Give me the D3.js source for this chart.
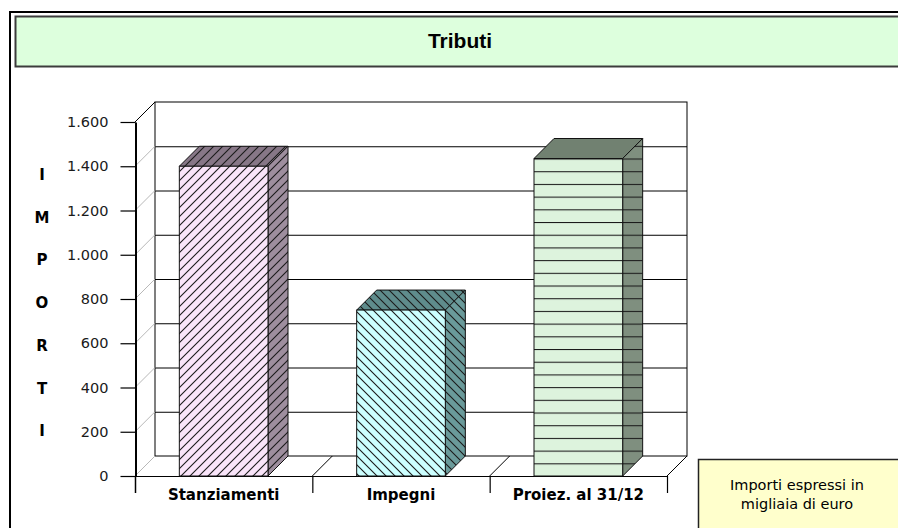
<!DOCTYPE html>
<html>
<head>
<meta charset="utf-8">
<script src="https://cdn.jsdelivr.net/npm/d3@7"></script>
<style>
  html, body { margin: 0; padding: 0; background: #fff; }
  svg { display: block; }
</style>
</head>
<body>
<svg id="chart"></svg>
<script>
// chart data
const title = "Tributi";
const categories = ["Stanziamenti", "Impegni", "Proiez. al 31/12"];
const values = [1400, 750, 1435];
const yTicks = [0, 200, 400, 600, 800, 1000, 1200, 1400, 1600];
const axisTitle = "IMPORTI";
const noteLines = ["Importi espressi in", "migliaia di euro"];

// look of each bar: front / side / top colours and hatch kind
const barStyles = [
    { front: "#f9e4f9", side: "#9e8e9e", top: "#877787", hatch: "up" },
    { front: "#ccffff", side: "#6a9a9a", top: "#5f8c8c", hatch: "down" },
    { front: "#ddf3dd", side: "#7f8f7f", top: "#718171", hatch: "horiz" },
];

const W = 898, H = 528;
const dx = 20, dy = -20; // 3D depth offset
const fmt = d3.formatLocale({ decimal: ",", thousands: ".", grouping: [3], currency: ["€", ""] }).format(",d");

const svg = d3.select("#chart").attr("width", W).attr("height", H);
const defs = svg.append("defs");

const y = d3.scaleLinear().domain([0, 1600]).range([476, 122]);
const x = d3.scaleBand().domain(categories).range([135, 667]).paddingInner(0).paddingOuter(0);
const bw = x.bandwidth();
const y0 = y(0);

// outer frame + title band
svg.append("rect")
    .attr("x", 10).attr("y", 12).attr("width", 900).attr("height", 540)
    .attr("fill", "none").attr("stroke", "#000").attr("stroke-width", 2);
svg.append("rect")
    .attr("x", 15.5).attr("y", 16.5).attr("width", 900).attr("height", 50)
    .attr("fill", "#ddffdd").attr("stroke", "#3c3c3c").attr("stroke-width", 2);
svg.append("text")
    .attr("x", 460).attr("y", 48)
    .attr("text-anchor", "middle")
    .style("font", "bold 21px 'Liberation Sans', Arial, sans-serif")
    .text(title);

// hatch patterns
function makePattern(id, base, kind, offsetY) {
    const size = kind === "horiz" ? 12.7 : 9;
    const p = defs.append("pattern")
        .attr("id", id)
        .attr("patternUnits", "userSpaceOnUse")
        .attr("x", 0).attr("y", offsetY || 0)
        .attr("width", kind === "horiz" ? 10 : size)
        .attr("height", size);
    p.append("rect").attr("width", 10).attr("height", size).attr("fill", base);
    let d;
    if (kind === "up") d = `M-1,1 L1,-1 M0,${size} L${size},0 M${size - 1},${size + 1} L${size + 1},${size - 1}`;
    else if (kind === "down") d = `M-1,${size - 1} L1,${size + 1} M0,0 L${size},${size} M${size - 1},-1 L${size + 1},1`;
    else d = `M0,0.5 L10,0.5`;
    p.append("path").attr("d", d).attr("stroke", "#1a1a1a").attr("stroke-width", 1.1).attr("fill", "none");
}

// back wall
const wall = svg.append("g");
wall.append("rect")
    .attr("x", 135 + dx).attr("y", y(1600) + dy)
    .attr("width", 532).attr("height", y0 - y(1600))
    .attr("fill", "#fff").attr("stroke", "#000").attr("stroke-width", 1);

// gridlines on back wall and side wall
wall.selectAll(".grid").data(yTicks.slice(1, -1)).join("line")
    .attr("x1", 135 + dx).attr("x2", 667 + dx)
    .attr("y1", d => y(d) + dy + 0.5).attr("y2", d => y(d) + dy + 0.5)
    .attr("stroke", "#000");
wall.selectAll(".side").data(yTicks).join("line")
    .attr("x1", 135).attr("y1", d => y(d))
    .attr("x2", 135 + dx).attr("y2", d => y(d) + dy)
    .attr("stroke", d => d === 1600 ? "#000" : "#b8b8b8");

// floor
const bounds = categories.map(c => x(c)).concat([x.range()[1]]);
wall.append("line")
    .attr("x1", 135).attr("x2", 667).attr("y1", y0 + 0.5).attr("y2", y0 + 0.5)
    .attr("stroke", "#000");
wall.selectAll(".floor").data(bounds.slice(1)).join("line")
    .attr("x1", d => d).attr("y1", y0)
    .attr("x2", d => d + dx).attr("y2", y0 + dy)
    .attr("stroke", "#000");

// bars
categories.forEach((c, i) => {
    const st = barStyles[i];
    const bx = x(c) + bw / 4, w = bw / 2, top = y(values[i]);
    const offs = st.hatch === "horiz" ? top : 0;
    makePattern("front" + i, st.front, st.hatch, offs);
    makePattern("side" + i, st.side, st.hatch, offs);
    makePattern("top" + i, st.top, st.hatch, offs);
    const g = svg.append("g").attr("stroke", "#111").attr("stroke-width", 1).attr("stroke-linejoin", "round");
    g.append("polygon")
        .attr("points", [[bx, top], [bx + dx, top + dy], [bx + w + dx, top + dy], [bx + w, top]].join(" "))
        .attr("fill", st.hatch === "horiz" ? st.top : `url(#top${i})`);
    g.append("polygon")
        .attr("points", [[bx + w, top], [bx + w + dx, top + dy], [bx + w + dx, y0 + dy], [bx + w, y0]].join(" "))
        .attr("fill", `url(#side${i})`);
    g.append("rect")
        .attr("x", bx).attr("y", top).attr("width", w).attr("height", y0 - top)
        .attr("fill", `url(#front${i})`);
});

// y axis
const yAxis = svg.append("g")
    .attr("transform", "translate(135.5,0)")
    .call(d3.axisLeft(y).tickValues(yTicks).tickFormat(fmt).tickSize(15).tickSizeOuter(0).tickPadding(12));
yAxis.select(".domain").attr("stroke", "#000").attr("stroke-width", 2);
yAxis.selectAll(".tick line").attr("stroke", "#000").attr("stroke-width", 1.2);
yAxis.selectAll("text")
    .attr("fill", "#1a1a1a")
    .style("font", "14.5px 'DejaVu Sans', sans-serif");
svg.append("line")
    .attr("x1", 135.5).attr("x2", 135.5).attr("y1", y0).attr("y2", 493)
    .attr("stroke", "#000").attr("stroke-width", 1.5);

// x axis: category labels and boundary ticks
const xAxis = svg.append("g")
    .attr("transform", `translate(0,${y0})`)
    .call(d3.axisBottom(x).tickSize(0).tickPadding(13));
xAxis.select(".domain").remove();
xAxis.selectAll("text")
    .attr("fill", "#000")
    .style("font", "bold 15px 'DejaVu Sans', sans-serif");
svg.selectAll(".xtick").data(bounds.slice(1)).join("line")
    .attr("x1", d => d + 0.5).attr("x2", d => d + 0.5)
    .attr("y1", y0).attr("y2", 493)
    .attr("stroke", "#000").attr("stroke-width", 1.2);

// vertical axis title, one letter per line
svg.selectAll(".ytitle").data(axisTitle.split("")).join("text")
    .attr("x", 42)
    .attr("y", (d, i) => 180 + i * 42.7)
    .attr("text-anchor", "middle")
    .style("font", "bold 15px 'DejaVu Sans', sans-serif")
    .text(d => d);

// note box
svg.append("rect")
    .attr("x", 698.5).attr("y", 459.5).attr("width", 230).attr("height", 100)
    .attr("fill", "#ffffcc").attr("stroke", "#222").attr("stroke-width", 1.5);
svg.selectAll(".note").data(noteLines).join("text")
    .attr("x", 797)
    .attr("y", (d, i) => 490 + i * 19)
    .attr("text-anchor", "middle")
    .style("font", "14.5px 'DejaVu Sans', sans-serif")
    .text(d => d);
</script>
</body>
</html>
